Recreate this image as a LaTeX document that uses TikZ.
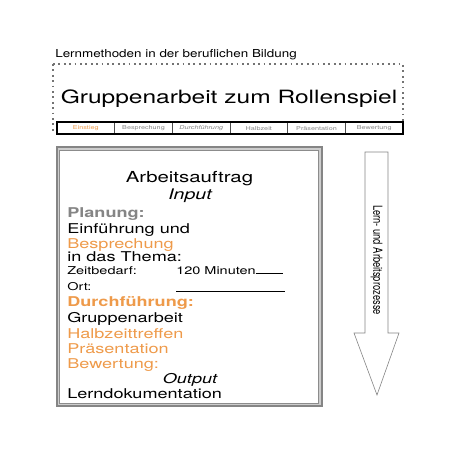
\documentclass[tikz,border=0pt]{standalone}
\usepackage{fontspec}
\setmainfont{TeX Gyre Heros}
\newfontfamily\widefont[FakeStretch=1.34]{TeX Gyre Heros}
\newfontfamily\headfont[FakeStretch=1.22]{TeX Gyre Heros}
\newfontfamily\narrowfont[FakeStretch=0.75]{TeX Gyre Heros}
\usepackage{xcolor}
\definecolor{phase}{HTML}{EE9A4A}
\definecolor{frame}{HTML}{858585}
\definecolor{frameband}{HTML}{CDCDCD}

\begin{document}
\begin{tikzpicture}[x=1pt,y=-1pt,semithick]
  \tikzstyle{line}=[anchor=base west,inner sep=0pt,font=\widefont\fontsize{13.5}{16}\selectfont]
  \tikzstyle{small}=[anchor=base west,inner sep=0pt,font=\widefont\fontsize{10.8}{12}\selectfont]
  \tikzstyle{tab}=[inner sep=0pt,text=frame,font=\widefont\fontsize{5.4}{6}\selectfont]
  \useasboundingbox (0,0) rectangle (452,452);

  % header
  \node[anchor=base west,inner sep=0pt,font=\headfont\fontsize{11}{12}\selectfont] (head) at (55,57) {Lernmethoden in der beruflichen Bildung};
  \draw[dash pattern=on 1.8pt off 3.6pt,line width=1.8pt,black!55] (53,64) -- (403,64) -- (403,124)
    (53,64) -- (53,134);
  \node[anchor=base,inner sep=0pt,font=\widefont\fontsize{18.3}{20}\selectfont] (title) at (229,103) {Gruppenarbeit zum Rollenspiel};

  % phases
  \fill[white] (57,122) rectangle (403,134);
  \foreach \i in {1,...,5}
    \draw[thin,black!70] ({57+\i*57.67},122) -- ({57+\i*57.67},134);
  \draw[line width=1.2pt] (57,122) rectangle (403,134);
  \node[tab,text=phase] (einstieg) at (85.8,128.5) {Einstieg};
  \node[tab] (besprechung) at (143.5,128.5) {Besprechung};
  \node[tab,font=\widefont\fontsize{5.4}{6}\selectfont\itshape] (durchfuehrung) at (201.2,128.5) {Durchführung};
  \node[tab] (halbzeit) at (258.8,128.5) {Halbzeit};
  \node[tab] (praesentation) at (316.5,128.5) {Präsentation};
  \node[tab] (bewertung) at (374.2,128.5) {Bewertung};

  % work order
  \draw[frameband,line width=3pt] (58,148.5) rectangle (320.5,404.5);
  \draw[frame,line width=2pt] (56.5,147) rectangle (322,406);
  \draw[black!45,line width=0.8pt] (59.8,150.3) rectangle (318.6,403);
  \node[line,anchor=base,font=\widefont\fontsize{15.2}{17}\selectfont] (auftrag) at (189.5,182.5) {Arbeitsauftrag};
  \node[line,anchor=base,font=\widefont\fontsize{14.6}{16}\selectfont\itshape] (input) at (190,199.5) {Input};
  \node[line,text=frame,font=\widefont\fontsize{13.5}{16}\selectfont\bfseries] (planung) at (67,217) {Planung:};
  \node[line] (einf) at (67,233) {Einführung und};
  \node[line,text=phase] (bespr) at (67,248) {Besprechung};
  \node[line] (thema) at (67,261) {in das Thema:};
  \node[small] (zeit) at (67,274) {Zeitbedarf:};
  \node[small] (minuten) at (176,274) {120 Minuten\rule{27pt}{0.6pt}};
  \node[small] (ort) at (67,290) {Ort:};
  \draw[line width=0.8pt] (176,291) -- (285,291);
  \node[line,text=phase,font=\widefont\fontsize{13.5}{16}\selectfont\bfseries] (durch) at (67,306) {Durchführung:};
  \node[line] (gruppe) at (67,322) {Gruppenarbeit};
  \node[line,text=phase] (halb) at (67,338) {Halbzeittreffen};
  \node[line,text=phase] (praes) at (67,353) {Präsentation};
  \node[line,text=phase] (bew) at (67,368) {Bewertung:};
  \node[line,anchor=base,font=\widefont\fontsize{13.5}{16}\selectfont\itshape] (output) at (190,383) {Output};
  \node[line] (doku) at (67,398) {Lerndokumentation};

  % process arrow
  \draw[frame,fill=white] (365,152) -- (388,152) -- (388,333) -- (399,333)
    -- (377,395) -- (354,333) -- (365,333) -- cycle;
  \node[inner sep=0pt,rotate=-90,font=\narrowfont\fontsize{12.5}{14}\selectfont] (prozess) at (376.5,260) {Lern- und Arbeitsprozesse};
\end{tikzpicture}
\end{document}
